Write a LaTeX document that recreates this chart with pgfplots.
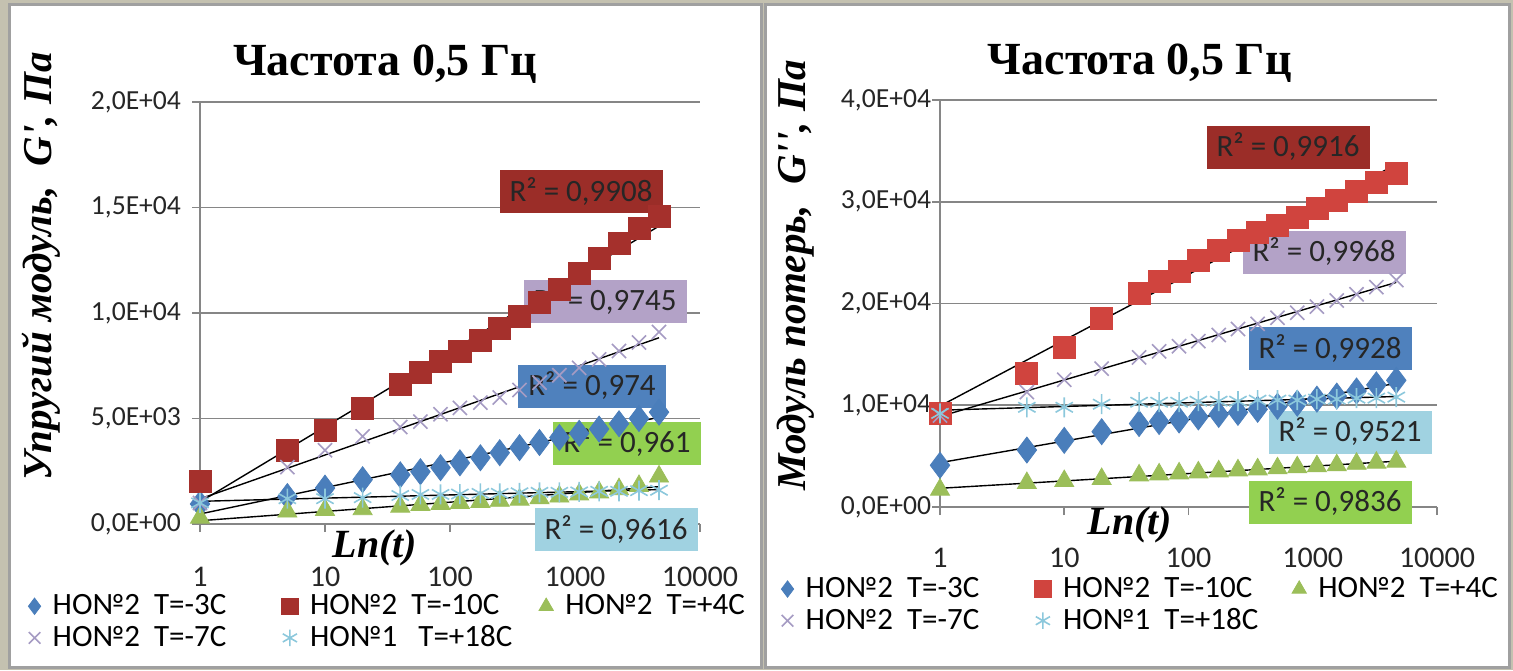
\documentclass[border=0pt]{standalone}
\usepackage{fontspec}
\setmainfont{Carlito}
\newfontfamily\serifbf{Liberation Serif}
\usepackage{pgfplots}
\usepackage{pgfplotstable}
\pgfplotsset{compat=1.18}

\definecolor{bgc}{RGB}{196,193,176}
\definecolor{panelline}{RGB}{160,160,160}
\definecolor{cblue}{RGB}{74,126,187}
\definecolor{credL}{RGB}{165,48,44}
\definecolor{credR}{RGB}{208,68,62}
\definecolor{cgreen}{RGB}{155,190,89}
\definecolor{cpurple}{RGB}{165,155,195}
\definecolor{clblue}{RGB}{140,200,220}
\definecolor{bred}{RGB}{155,45,40}
\definecolor{blav}{RGB}{179,162,199}
\definecolor{bblue}{RGB}{79,129,189}
\definecolor{bgreen}{RGB}{146,208,80}
\definecolor{blblue}{RGB}{160,210,225}
\definecolor{gridc}{RGB}{134,134,134}
\definecolor{txt}{RGB}{38,38,38}

% G' (left panel): a=-3C, b=-10C, c=+4C, d=-7C, e=+18C
\pgfplotstableread{
x a b c d e
1 950 2000 300 1000 1000
5 1300 3500 590 2700 1200
10 1700 4450 670 3500 1200
20 2100 5500 700 4150 1250
40 2330 6600 820 4600 1350
58 2480 7200 900 4850 1400
84 2670 7700 950 5200 1400
120 2900 8200 1000 5500 1420
175 3140 8700 1050 5750 1450
250 3380 9250 1100 6000 1450
360 3620 9850 1150 6350 1480
520 3860 10500 1220 6700 1500
750 4100 11100 1300 7050 1500
1080 4300 11900 1400 7400 1520
1560 4500 12600 1500 7800 1550
2250 4750 13300 1650 8200 1550
3250 5000 14000 1800 8600 1580
4700 5300 14600 2250 9100 1600
}\Gp
% G'' (right panel)
\pgfplotstableread{
x a b c d e
1 4100 9200 1700 9000 9200
5 5600 13100 2350 11300 9800
10 6550 15700 2550 12500 9800
20 7400 18500 2750 13600 10100
40 8200 21000 3100 14700 10300
58 8400 22200 3200 15300 10300
84 8550 23200 3300 15800 10300
120 8850 24200 3400 16300 10400
175 9100 25200 3500 16900 10400
250 9300 26200 3600 17500 10400
360 9600 27000 3700 18000 10500
520 9900 27700 3800 18600 10500
750 10200 28500 3900 19100 10500
1080 10600 29300 4000 19700 10600
1560 10900 30100 4100 20300 10600
2250 11400 31000 4250 20900 10700
3250 12000 31900 4350 21600 10700
4700 12450 32800 4450 22300 10800
}\Gpp
\pgfplotstablecreatecol[expr={ln(\thisrow{x})}]{lx}{\Gp}
\pgfplotstablecreatecol[expr={ln(\thisrow{x})}]{lx}{\Gpp}
% logarithmic trend lines (least squares of value on ln t)
\pgfplotstablecreatecol[linear regression={x=lx,y=a}]{ra}{\Gp}
\pgfplotstablecreatecol[linear regression={x=lx,y=b}]{rb}{\Gp}
\pgfplotstablecreatecol[linear regression={x=lx,y=c}]{rc}{\Gp}
\pgfplotstablecreatecol[linear regression={x=lx,y=d}]{rd}{\Gp}
\pgfplotstablecreatecol[linear regression={x=lx,y=e}]{re}{\Gp}
\pgfplotstablecreatecol[linear regression={x=lx,y=a}]{ra}{\Gpp}
\pgfplotstablecreatecol[linear regression={x=lx,y=b}]{rb}{\Gpp}
\pgfplotstablecreatecol[linear regression={x=lx,y=c}]{rc}{\Gpp}
\pgfplotstablecreatecol[linear regression={x=lx,y=d}]{rd}{\Gpp}
\pgfplotstablecreatecol[linear regression={x=lx,y=e}]{re}{\Gpp}

\tikzset{rbox/.style={font=\fontsize{15.5}{15.5}\selectfont, text=txt, inner xsep=5pt, minimum height=21.5pt}}
\newcommand\legimg[1]{\draw[#1, mark size=4.1pt] plot coordinates {(0pt,0pt)};}
\newcommand\lent[1]{\hspace{4.5pt}\makebox[113pt][l]{#1}}

\begin{document}
\begin{tikzpicture}
\fill[bgc] (0,0) rectangle (756.5pt,335pt);
\draw[panelline, line width=1.5pt, fill=white] (4.5pt,1.5pt) rectangle (380.5pt,332.5pt);
\draw[panelline, line width=1.5pt, fill=white] (382.5pt,1.5pt) rectangle (754.5pt,332.5pt);

% ---------------- left panel ----------------
\begin{axis}[
  scale only axis, clip=false,
  xmode=log, log basis x=10,
  xmin=1, xmax=10000,
  xtick={1,10,100,1000,10000},
  xticklabels={1,10,100,1000,10000},
  axis x line=bottom, axis y line=left,
  axis line style={-, gridc, line width=0.8pt},
  tick align=outside, major tick length=4pt,
  tick style={gridc, line width=0.8pt},
  ymajorgrids, grid style={gridc, line width=0.8pt},
  scaled y ticks=false,
  xticklabel style={font=\fontsize{15}{15}\selectfont, text=txt, yshift=-14pt},
  yticklabel style={font=\fontsize{13.8}{14}\selectfont, text=txt, xshift=-2pt},
  legend columns=3, legend cell align=left,
  legend style={draw=none, fill=none, font=\fontsize{15.5}{18}\selectfont,
      nodes={inner sep=1.5pt}, row sep=1pt,
      at={(-0.356,-0.15)}, anchor=north west},
  legend image code/.code={\legimg{#1}},
  at={(100pt,73pt)}, anchor=south west,
  width=250pt, height=211pt,
  ymin=0, ymax=20000,
  ytick={0,5000,10000,15000,20000},
  yticklabels={{0,0E+00},{5,0E+03},{1,0E+04},{1,5E+04},{2,0E+04}},
  title={Частота 0,5 Гц},
  title style={at={(0.37,1.095)}, anchor=center, yshift=-7pt, font=\serifbf\bfseries\fontsize{23}{23}\selectfont},
  xlabel={Ln(t)},
  xlabel style={at={(0.35,-0.056)}, anchor=center, font=\serifbf\bfseries\itshape\fontsize{20}{20}\selectfont},
  ylabel={Упругий модуль,\ \ G', Па},
  ylabel style={at={(-0.318,0.61)}, anchor=center, font=\serifbf\bfseries\itshape\fontsize{20.5}{20.5}\selectfont},
]
\addplot[only marks, mark=diamond*, mark size=6.5pt, color=cblue] table[x=x,y=a]{\Gp};
\addlegendentry{\lent{НО№2\ \ T=-3C}}
\addplot[only marks, mark=square*, mark size=5.5pt, color=credL] table[x=x,y=b]{\Gp};
\addlegendentry{\lent{НО№2\ \ T=-10C}}
\addplot[only marks, mark=triangle*, mark size=5.5pt, color=cgreen] table[x=x,y=c]{\Gp};
\addlegendentry{\lent{НО№2\ \ T=+4C}}
\addplot[only marks, mark=x, mark size=5pt, line width=0.8pt, color=cpurple] table[x=x,y=d]{\Gp};
\addlegendentry{\lent{НО№2\ \ T=-7C}}
\addplot[only marks, mark=asterisk, mark size=5pt, line width=0.8pt, color=clblue] table[x=x,y=e]{\Gp};
\addlegendentry{\lent{НО№1\ \ \ T=+18C}}
\addplot[forget plot, black, line width=0.7pt] table[x=x, y=ra]{\Gp};
\addplot[forget plot, black, line width=0.7pt] table[x=x, y=rb]{\Gp};
\addplot[forget plot, black, line width=0.7pt] table[x=x, y=rc]{\Gp};
\addplot[forget plot, black, line width=0.7pt] table[x=x, y=rd]{\Gp};
\addplot[forget plot, black, line width=0.7pt] table[x=x, y=re]{\Gp};
\node[rbox, fill=bred] at (axis cs:1117,15780) {R² = 0,9908};
\node[rbox, fill=blav] at (axis cs:1738,10568) {R² = 0,9745};
\node[rbox, fill=bblue] at (axis cs:1368,6540) {R² = 0,974};
\node[rbox, fill=bgreen] at (axis cs:2606,3839) {R² = 0,961};
\node[rbox, fill=blblue] at (axis cs:2128,-284) {R² = 0,9616};
\end{axis}

% ---------------- right panel ----------------
\begin{axis}[
  scale only axis, clip=false,
  xmode=log, log basis x=10,
  xmin=1, xmax=10000,
  xtick={1,10,100,1000,10000},
  xticklabels={1,10,100,1000,10000},
  axis x line=bottom, axis y line=left,
  axis line style={-, gridc, line width=0.8pt},
  tick align=outside, major tick length=4pt,
  tick style={gridc, line width=0.8pt},
  ymajorgrids, grid style={gridc, line width=0.8pt},
  scaled y ticks=false,
  xticklabel style={font=\fontsize{15}{15}\selectfont, text=txt, yshift=-13pt},
  yticklabel style={font=\fontsize{13.8}{14}\selectfont, text=txt, xshift=3pt},
  legend columns=3, legend cell align=left,
  legend style={draw=none, fill=none, font=\fontsize{15.5}{18}\selectfont,
      nodes={inner sep=1.5pt}, row sep=1pt,
      at={(-0.332,-0.155)}, anchor=north west},
  legend image code/.code={\legimg{#1}},
  at={(470pt,81.5pt)}, anchor=south west,
  width=248.5pt, height=203.5pt,
  ymin=0, ymax=40000,
  ytick={0,10000,20000,30000,40000},
  yticklabels={{0,0E+00},{1,0E+04},{2,0E+04},{3,0E+04},{4,0E+04}},
  title={Частота 0,5 Гц},
  title style={at={(0.402,1.097)}, anchor=center, yshift=-7.5pt, font=\serifbf\bfseries\fontsize{23}{23}\selectfont},
  xlabel={Ln(t)},
  xlabel style={at={(0.382,-0.044)}, anchor=center, font=\serifbf\bfseries\itshape\fontsize{20}{20}\selectfont},
  ylabel={Модуль потерь,\ \ G'', Па},
  ylabel style={at={(-0.29,0.57)}, anchor=center, font=\serifbf\bfseries\itshape\fontsize{20.5}{20.5}\selectfont},
]
\addplot[only marks, mark=diamond*, mark size=6.5pt, color=cblue] table[x=x,y=a]{\Gpp};
\addlegendentry{\lent{НО№2\ \ T=-3C}}
\addplot[only marks, mark=square*, mark size=5.5pt, color=credR] table[x=x,y=b]{\Gpp};
\addlegendentry{\lent{НО№2\ \ T=-10C}}
\addplot[only marks, mark=triangle*, mark size=5.5pt, color=cgreen] table[x=x,y=c]{\Gpp};
\addlegendentry{\lent{НО№2\ \ T=+4C}}
\addplot[only marks, mark=x, mark size=5pt, line width=0.8pt, color=cpurple] table[x=x,y=d]{\Gpp};
\addlegendentry{\lent{НО№2\ \ T=-7C}}
\addplot[only marks, mark=asterisk, mark size=5pt, line width=0.8pt, color=clblue] table[x=x,y=e]{\Gpp};
\addlegendentry{\lent{НО№1\ \ T=+18C}}
\addplot[forget plot, black, line width=0.7pt] table[x=x, y=ra]{\Gpp};
\addplot[forget plot, black, line width=0.7pt] table[x=x, y=rb]{\Gpp};
\addplot[forget plot, black, line width=0.7pt] table[x=x, y=rc]{\Gpp};
\addplot[forget plot, black, line width=0.7pt] table[x=x, y=rd]{\Gpp};
\addplot[forget plot, black, line width=0.7pt] table[x=x, y=re]{\Gpp};
\node[rbox, fill=bred] at (axis cs:632,35380) {R² = 0,9916};
\node[rbox, fill=blav] at (axis cs:1233,25060) {R² = 0,9968};
\node[rbox, fill=bblue] at (axis cs:1377,15530) {R² = 0,9928};
\node[rbox, fill=blblue] at (axis cs:1995,7371) {R² = 0,9521};
\node[rbox, fill=bgreen] at (axis cs:1377,491) {R² = 0,9836};
\end{axis}
\pgfresetboundingbox
\useasboundingbox (0,0) rectangle (756.5pt,335pt);
\end{tikzpicture}
\end{document}
